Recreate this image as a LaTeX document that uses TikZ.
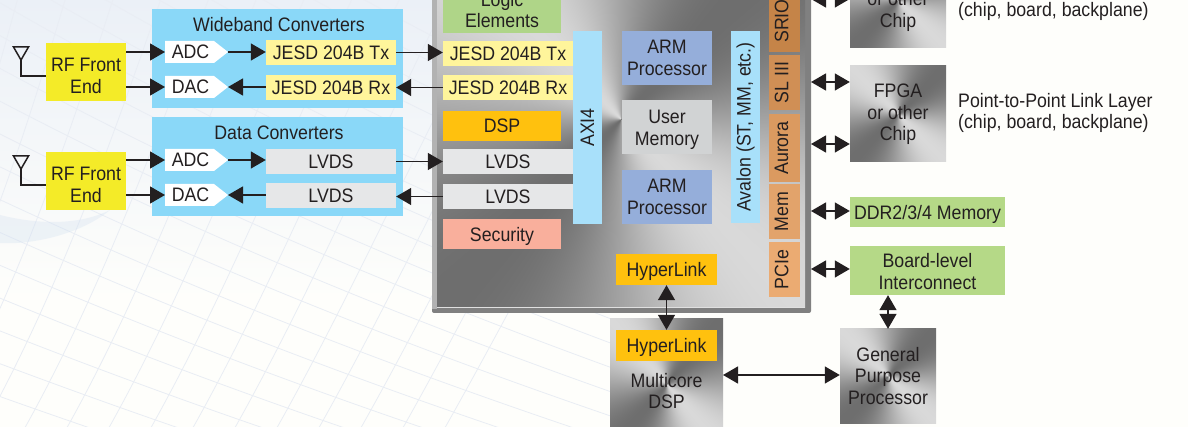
\documentclass[tikz,border=0pt]{standalone}
\usepackage{fontspec}
\setmainfont[FakeStretch=0.91]{Liberation Sans}
\usetikzlibrary{arrows.meta,shapes.geometric,calc}
\definecolor{cpanel}{HTML}{8AD8F8}
\definecolor{cbus}{HTML}{A8E0FA}
\definecolor{cyel}{HTML}{F4EB28}
\definecolor{cjesd}{HTML}{FFF59B}
\definecolor{cgrey}{HTML}{E6E7E8}
\definecolor{cgold}{HTML}{FFC10E}
\definecolor{cgreen}{HTML}{AFD588}
\definecolor{clime}{HTML}{B5D987}
\definecolor{csec}{HTML}{F9AF9C}
\definecolor{carm}{HTML}{95AEDA}
\definecolor{cmem}{HTML}{D1D3D4}
\definecolor{ctxt}{HTML}{231F20}
\definecolor{corA}{HTML}{C58448}
\definecolor{corB}{HTML}{D08F55}
\definecolor{corC}{HTML}{DB9A60}
\definecolor{corD}{HTML}{E2A36B}
\definecolor{corE}{HTML}{EBAB72}
\definecolor{cgrid}{HTML}{E9EDF4}
\definecolor{cbgl}{HTML}{EBF0F7}
\definecolor{cbgc}{HTML}{FEFEFB}
\definecolor{cwave}{HTML}{CEDEF0}
\pgfdeclarefunctionalshading{metal}{\pgfpointorigin}{\pgfpoint{100bp}{100bp}}{}{
  50 sub exch 50 sub 0.001 add atan 2 mul sin -0.21 mul 0.64 add dup dup
}
% raise the height of a line to push a centred text down, or its depth to push a rotated text left
\newcommand{\dn}[1]{\rule{0pt}{\dimexpr14.2pt+#1pt\relax}}
\newcommand{\lft}{\rule[-6pt]{0pt}{6pt}}
\tikzset{
  every node/.style={text=ctxt,font=\fontsize{19.5}{21.7}\selectfont,inner sep=0pt,align=center},
  link/.style={draw=ctxt,line width=1.4pt,-{Triangle[length=15pt,width=17pt]}},
  blink/.style={draw=ctxt,line width=1.4pt,{Triangle[length=15pt,width=17pt]}-{Triangle[length=15pt,width=17pt]}},
  antenna/.style={draw=ctxt,line width=1.5pt,fill=none,line join=miter},
  metalbox/.style={shading=metal,draw=none},
  vert/.style={rotate=90},
  cell/.style={minimum width=#1pt,minimum height=25pt},
  flat/.style={text depth=0pt}
}
\begin{document}
\begin{tikzpicture}[x=1pt,y=-1pt]
\useasboundingbox (0,0) rectangle (1188,427);
\clip (0,0) rectangle (1188,427);
% background
\fill[cbgc] (0,0) rectangle (1188,427);
\shade[top color=cbgl,bottom color=cbgc] (0,0) rectangle (432,300);
\foreach \i in {-8,-7,...,16}{
  \draw[cgrid,line width=.8pt] (-10,{\i*33+30}) .. controls (150,{\i*30+120}) and (350,{\i*27+220}) .. (640,{\i*24+330});
}
\foreach \i in {-8,-7,...,9}{
  \draw[cgrid,line width=.8pt] ({\i*48+260},-10) .. controls ({\i*44+200},140) and ({\i*42+140},300) .. ({\i*42+60},440);
}
\fill[cwave,opacity=.3] (0,215) .. controls (40,225) and (80,225) .. (110,210) .. controls (80,235) and (30,245) .. (0,243) -- cycle;
% main chip
\fill[black!50,rounded corners=2pt] (432,-70) rectangle (811,313);
\path[metalbox] (437,-70) rectangle (805,308);
\fill[black!30] (432,-70) rectangle (437,309);
\draw[black!12,line width=1pt] (437,308) -- (805,308);
% panels
\fill[cpanel] (152,9) rectangle (403,108);
\fill[cpanel] (152,117) rectangle (403,216);
\node (wbt) at (279,25) {Wideband Converters};
\node (dct) at (279,133) {Data Converters};
% RF front ends
\node[fill=cyel,minimum width=80pt,minimum height=58pt] (rf1) at (86,72) {\dn{7}RF Front\\End};
\node[fill=cyel,minimum width=80pt,minimum height=58pt] (rf2) at (86,181) {\dn{7}RF Front\\End};
% converters
\foreach \n/\t/\y in {a1/ADC/52,d1/DAC/87,a2/ADC/160,d2/DAC/195}{
  \fill[white] (165,\y-11) -- (214,\y-11) -- (228,\y) -- (214,\y+11) -- (165,\y+11) -- cycle;
  \coordinate (\n w) at (165,\y);
  \coordinate (\n e) at (228,\y);
  \node (\n) at (190.5,\y) {\t};
}
\node[cell=130,fill=cjesd] (jt1) at (331,52.5) {JESD 204B Tx};
\node[cell=130,fill=cjesd] (jr1) at (331,87.5) {JESD 204B Rx};
\node[cell=130,fill=cgrey] (lv1) at (331,161.5) {LVDS};
\node[cell=130,fill=cgrey] (lv2) at (331,195.5) {LVDS};
\node[cell=130,fill=cjesd] (jt2) at (508,53.5) {JESD 204B Tx};
\node[cell=130,fill=cjesd] (jr2) at (508,87.5) {JESD 204B Rx};
\node[cell=130,fill=cgrey] (lv3) at (508,161.5) {LVDS};
\node[cell=130,fill=cgrey] (lv4) at (508,196.5) {LVDS};
% chip blocks
\node[fill=cgreen,minimum width=118pt,minimum height=50pt] (logic) at (502,8) {\dn{4}Logic\\Elements};
\node[fill=cgold,minimum width=118pt,minimum height=30pt] (dsp) at (502,126) {DSP};
\node[fill=csec,minimum width=118pt,minimum height=30pt,flat] (sec) at (502,234) {Security};
\node[fill=cbus,minimum width=193pt,minimum height=29pt,vert] (axi) at (587.5,127.5) {AXI4};
\node[fill=carm,minimum width=90pt,minimum height=54pt] (arm1) at (667,58) {ARM\\Processor};
\node[fill=cmem,minimum width=90pt,minimum height=54pt] (umem) at (667,127) {\dn{5}User\\Memory};
\node[fill=carm,minimum width=90pt,minimum height=54pt] (arm2) at (667,197) {ARM\\Processor};
\node[fill=cbus,minimum width=192pt,minimum height=29pt,vert] (aval) at (745.5,127) {Avalon (ST, MM, etc.)};
\node[fill=corA,minimum width=62pt,minimum height=31pt,vert] (srio) at (784.5,21) {\lft SRIO};
\node[fill=corB,minimum width=55pt,minimum height=31pt,vert] (sl) at (784.5,82.5) {\lft SL III};
\node[fill=corC,minimum width=68pt,minimum height=31pt,vert] (aur) at (784.5,148) {\lft Aurora};
\node[fill=corD,minimum width=55pt,minimum height=31pt,vert] (memb) at (784.5,211.5) {\lft Mem};
\node[fill=corE,minimum width=55pt,minimum height=31pt,vert] (pcie) at (784.5,269.5) {\lft PCIe};
\node[fill=cgold,minimum width=101pt,minimum height=31pt,flat] (hl1) at (666.5,269.5) {HyperLink};
% outside
\node[metalbox,minimum width=96pt,minimum height=96pt] (fp1) at (898,0) {};
\node[align=center] (fp1t) at (898,1) {FPGA\\or other\\Chip};
\node[metalbox,minimum width=96pt,minimum height=96pt] (fp2) at (898,114) {};
\node[align=center] (fp2t) at (898,114.5) {FPGA\\or other\\Chip};
\node[align=left,anchor=west] (ptp1) at (958,1) {Point-to-Point Link Layer\\(chip, board, backplane)};
\node[align=left,anchor=west] (ptp2) at (958,113) {Point-to-Point Link Layer\\(chip, board, backplane)};
\node[fill=clime,minimum width=155pt,minimum height=30pt,flat] (ddr) at (927.5,212) {DDR2/3/4 Memory};
\node[fill=clime,minimum width=155pt,minimum height=49pt] (brd) at (927.5,270.5) {\dn{2}Board-level\\Interconnect};
\node[metalbox,minimum width=113pt,minimum height=130pt] (mdsp) at (666.5,384) {};
\node[fill=cgold,minimum width=101pt,minimum height=31pt,flat] (hl2) at (666.5,345.5) {HyperLink};
\node (mdspt) at (666.5,391) {Multicore\\DSP};
\node[metalbox,minimum width=96pt,minimum height=94pt] (gpp) at (888,376) {};
\node (gppt) at (888,376) {General\\Purpose\\Processor};
% antennas
\foreach \y/\r in {52/rf1,161/rf2}{
  \draw[antenna] (13.5,\y-5) -- (28.5,\y-5) -- (21,\y+8) -- cycle;
  \draw[antenna] (21,\y+8) -- (21,\y+24) -- (\r.west |- 0,\y+24);
}
% connectors
\draw[link] (rf1.east |- a1w) -- (a1w);
\draw[link] (d1w -| rf1.east) -- (d1w);
\draw[link] (a1e) -- (jt1.west |- a1e);
\draw[link] (jr1.west |- d1e) -- (d1e);
\draw[link] (jt1.east) -- (jt2.west |- jt1.east);
\draw[link] (jr2.west) -- (jr1.east);
\draw[link] (rf2.east |- a2w) -- (a2w);
\draw[link] (d2w -| rf2.east) -- (d2w);
\draw[link] (a2e) -- (lv1.west |- a2e);
\draw[link] (lv2.west |- d2e) -- (d2e);
\draw[link] (lv1.east) -- (lv3.west);
\draw[link] (lv4.west) -- (lv2.east |- lv4.west);
\coordinate (ce1) at (811,-1);
\draw[blink] (ce1) -- (fp1.west |- ce1);
\coordinate (ce2) at (811,82);
\draw[blink] (ce2) -- (fp2.west |- ce2);
\coordinate (ce3) at (811,144);
\draw[blink] (ce3) -- (fp2.west |- ce3);
\coordinate (ce4) at (811,211);
\draw[blink] (ce4) -- (ddr.west |- ce4);
\coordinate (ce5) at (811,269);
\draw[blink] (ce5) -- (brd.west |- ce5);
\draw[blink] (hl1.south) -- (hl2.north);
\coordinate (mr) at (723,375);
\draw[blink] (mr) -- (gpp.west |- mr);
\draw[blink] (brd.south -| gpp.north) -- (gpp.north);
\end{tikzpicture}
\end{document}
